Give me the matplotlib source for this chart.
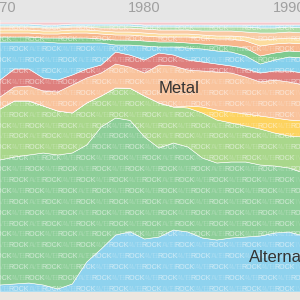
import numpy as np
import matplotlib.pyplot as plt

plt.rcParams['font.family'] = ['Liberation Sans', 'DejaVu Sans']

years = list(range(1970, 1992))

# layer shares, bottom to top (arbitrary units)
alternative = [7, 8, 9, 7, 3, 8, 30, 43, 57, 60, 53, 55, 62, 60, 54, 52, 54, 55, 56, 59, 60, 56]
rock = [125, 127, 128, 132, 134, 131, 117, 122, 117, 111, 102, 89, 87, 85, 80, 77, 76, 75, 71, 67, 64, 63]
pop_rock = [51, 56, 54, 47, 44, 40, 42, 31, 30, 32, 41, 45, 36, 39, 45, 43, 39, 36, 36, 33, 32, 36]
punk = [0, 0, 0, 0, 0, 0, 0, 0, 0, 0, 0, 0, 0, 2, 6, 10, 11, 12, 13, 15, 16, 16]
metal = [12, 14, 15, 15, 19, 28, 25, 23, 24, 21, 23, 38, 41, 36, 36, 38, 39, 37, 34, 38, 38, 36]
hard_rock = [17, 18, 17, 13, 12, 10, 9, 8, 12, 12, 13, 12, 11, 10, 9, 8, 7, 8, 9, 9, 11, 12]
indie = [38, 27, 27, 36, 37, 32, 26, 22, 7, 10, 14, 6, 8, 12, 13, 13, 14, 13, 9, 11, 14, 15]
folk = [5, 5, 5, 4, 5, 5, 5, 4, 5, 5, 5, 5, 5, 5, 5, 6, 6, 8, 8, 7, 6, 6]
soul = [4, 4, 4, 4, 4, 5, 5, 5, 5, 5, 5, 5, 5, 6, 6, 6, 7, 7, 10, 9, 8, 8]
country = [3, 3, 3, 3, 3, 3, 3, 3, 3, 3, 3, 3, 3, 3, 3, 3, 3, 4, 6, 5, 5, 5]
funk = [3, 3, 3, 3, 3, 3, 3, 3, 4, 4, 4, 4, 4, 4, 4, 5, 5, 5, 7, 6, 6, 6]
reggae = [1, 1, 1, 1, 1, 1, 1, 2, 2, 2, 2, 3, 3, 3, 4, 4, 4, 5, 5, 5, 5, 5]
jazz = [2, 2, 2, 2, 2, 2, 2, 2, 2, 2, 2, 2, 2, 2, 2, 2, 2, 2, 3, 3, 2, 3]
blues = [2, 2, 2, 3, 3, 2, 2, 2, 2, 2, 3, 3, 3, 3, 3, 3, 3, 3, 3, 3, 3, 3]
other = [2, 2, 2, 2, 2, 2, 2, 2, 2, 2, 2, 2, 2, 2, 2, 2, 2, 2, 2, 2, 2, 2]

layers = [alternative, rock, pop_rock, punk, metal, hard_rock, indie, folk,
          soul, country, funk, reggae, jazz, blues, other]
colors = ['#8ed2ee', '#8dce98', '#a9d78b', '#fdd35f', '#f9c39c', '#de7f7d',
          '#85d0ec', '#7fca90', '#f7b68c', '#fcdc9e', '#f9caa4', '#acdca6',
          '#ace0f0', '#f4c9cd', '#dde1e4']

shares = np.array(layers, dtype=float)
shares = shares / shares.sum(axis=0) * 100

fig = plt.figure(figsize=(3, 3), dpi=100, facecolor='#e6e6e6')
ax = fig.add_axes([0, 8 / 300, 1, 272 / 300])
fig.add_artist(plt.Rectangle((0, 0), 1, 8 / 300, transform=fig.transFigure,
                             color='#ede6df', zorder=0))

polys = ax.stackplot(years, *shares, colors=colors, edgecolor='white', linewidth=0.4)

ax.set_xlim(1970.2, 1990.75)
ax.set_ylim(0, 100)
ax.xaxis.tick_top()
ax.set_xticks([1970, 1980, 1990])
ax.tick_params(axis='x', length=0, pad=3.5, labelsize=10.5, labelcolor='#a0a0a0')
ax.set_yticks([])
for s in ax.spines.values():
    s.set_visible(False)

# faint word texture, clipped to its layer
for poly, word, alpha in [(polys[1], 'ROCK', 0.3), (polys[2], 'ROCK', 0.3),
                          (polys[0], 'ALTERNATIVE', 0.15)]:
    path = poly.get_paths()[0]
    for i, yy in enumerate(np.arange(1, 100, 4.0)):
        off = 1.1 if i % 2 else 0
        for xx in np.arange(1969 + off, 1992, 2.3):
            t = ax.text(xx, yy, word, fontsize=5, color='white', alpha=alpha,
                        ha='center', va='center')
            t.set_clip_path(path, ax.transData)

ax.text(1982.4, 75, 'Metal', ha='center', va='center', fontsize=12, color='#333333')
ax.text(1987.2, 12.5, 'Alternative', ha='left', va='center', fontsize=12,
        color='#333333', clip_on=False)

fig.savefig('out.png', dpi=100, facecolor=fig.get_facecolor())
